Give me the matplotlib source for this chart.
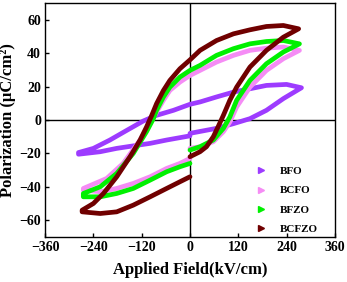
import matplotlib
matplotlib.use("Agg")
import matplotlib.pyplot as plt
from matplotlib.lines import Line2D

labels = ["BFO", "BCFO", "BFZO", "BCFZO"]
colors = ["#9D3BFF", "#F58CF5", "#00F000", "#700000"]

# BFO loop: lower-right branch, upper branch, lower-left branch
bfo_E = [0, 66, 108, 149, 190, 232, 277,
         240, 190, 149, 108, 66, 25, 0, -41, -83, -116, -157, -199, -240, -277,
         -277, -223, -182, -141, -99, -58, 0]
bfo_P = [-8, -5, -2.2, 0.8, 5.8, 12.8, 19.3,
         21.3, 20.7, 18.7, 16.7, 13.8, 10.8, 9.4, 5.8, 2.8, -0.6, -6.2, -12, -17, -19.5,
         -20.5, -19, -17, -15.5, -14, -12, -9.5]

bcfo_E = [0, 25, 58, 83, 99, 116, 149, 190, 232, 272,
          232, 190, 149, 108, 66, 25, 0, -25, -50, -66, -83, -99, -124, -166, -207, -265,
          -265, -223, -182, -141, -99, -58, -25, 0]
bcfo_P = [-17, -16, -13, -7, -1.2, 7.8, 19.7, 29.7, 36.7, 41.7,
          43.7, 43, 41.7, 38.7, 34.7, 29.7, 26.7, 22.7, 17.7, 11.8, 4.8, -2.2, -12, -26, -35, -41,
          -42, -43, -41, -38, -34, -29, -26, -23]

bfzo_E = [0, 25, 58, 83, 99, 116, 149, 190, 232, 272,
          232, 190, 149, 108, 66, 25, 0, -25, -50, -66, -83, -91, -108, -141, -182, -223, -265,
          -265, -223, -182, -141, -99, -58, -25, 0]
bfzo_P = [-18, -16, -12, -5, 1.8, 11.8, 23.7, 33.7, 40.7, 45.6,
          47.6, 47, 45.6, 42.7, 38.7, 32.7, 29.7, 25.7, 19.7, 13.8, 5.8, 0.8, -7, -20, -32, -40, -44,
          -46, -46, -44, -41, -36, -31, -28, -26]

bcfzo_E = [0, 25, 41, 58, 70, 83, 99, 116, 149, 190, 232, 270,
           232, 190, 149, 108, 66, 25, 0, -25, -50, -66, -83, -95, -108, -124, -149, -182, -215, -240, -268,
           -268, -223, -182, -141, -99, -58, -25, 0]
bcfzo_P = [-22, -19, -16, -10, -4, 2.8, 11.8, 19.7, 31.7, 41.7, 49.6, 54.6,
           56.6, 56, 54, 51.6, 47.6, 41.7, 36, 30.7, 23.7, 17.7, 9.8, 2.8, -4.2, -12, -22, -34, -44, -50, -54,
           -55, -56, -55, -51, -46, -41, -37, -34]

series_E = [bfo_E, bcfo_E, bfzo_E, bcfzo_E]
series_P = [bfo_P, bcfo_P, bfzo_P, bcfzo_P]

xticks = [-360, -240, -120, 0, 120, 240, 360]
yticks = [-60, -40, -20, 0, 20, 40, 60]

plt.rcParams['font.family'] = ['Liberation Serif', 'DejaVu Serif']
plt.rcParams['font.weight'] = 'bold'

fig = plt.figure(figsize=(3.47, 2.82), dpi=100)
ax = fig.add_axes([0.13, 0.16, 0.835, 0.829])

for E, P, c in zip(series_E, series_P, colors):
    ax.plot(E, P, color=c, lw=3.4, solid_capstyle='round', solid_joinstyle='round', zorder=3)

ax.axhline(0, color='black', lw=1.0, zorder=2)
ax.axvline(0, color='black', lw=1.0, zorder=2)

ax.set_xlim(-360, 360)
ax.set_ylim(-70, 70)
ax.set_xticks(xticks)
ax.set_yticks(yticks)
ax.tick_params(direction='in', length=3, width=1, labelsize=10, pad=3)
for lab in ax.get_xticklabels() + ax.get_yticklabels():
    lab.set_fontweight('bold')
for s in ax.spines.values():
    s.set_linewidth(1.0)

ax.set_xlabel("Applied Field(kV/cm)", fontsize=12, fontweight='bold', labelpad=6)
ax.set_ylabel("Polarization (μC/cm²)", fontsize=12, fontweight='bold', labelpad=2)

handles = [Line2D([], [], ls='none', marker='>', markersize=5, color=c,
                  markeredgecolor=c) for c in colors]
leg = ax.legend(handles, labels, loc='lower right', frameon=False,
                prop={'weight': 'bold', 'size': 8}, labelspacing=0.85,
                handletextpad=0.7, bbox_to_anchor=(0.975, -0.03))

fig.savefig("out.png", dpi=100)
